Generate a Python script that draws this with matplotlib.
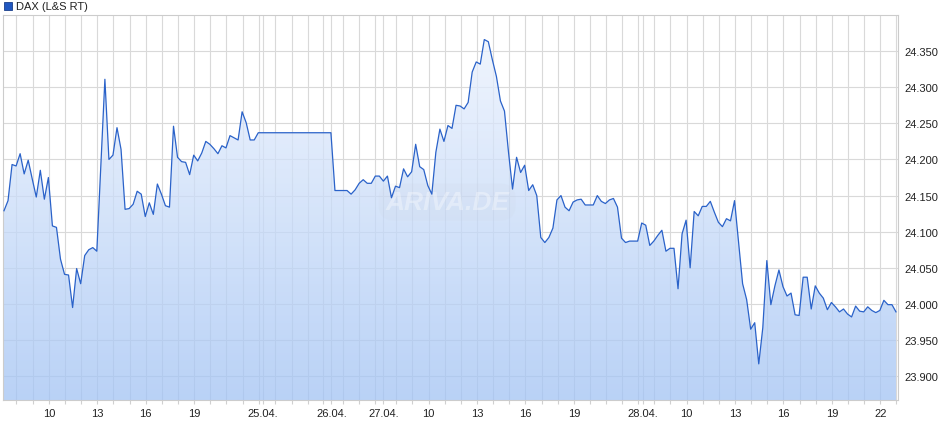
import numpy as np
import matplotlib
matplotlib.use("Agg")
import matplotlib.pyplot as plt
from matplotlib.ticker import FixedLocator, FuncFormatter
from matplotlib.patches import Rectangle

plt.rcParams['font.family'] = ['Liberation Sans', 'DejaVu Sans']

# === Data: DAX, 15-minute points ===
series_name = "DAX (L&S RT)"
prices = [
    24129, 24143, 24193, 24191, 24208, 24180, 24199, 24173, 24148, 24185,
    24145, 24175, 24108, 24106, 24062, 24041, 24040, 23995, 24049, 24028,
    24067, 24075, 24078, 24073, 24193, 24311, 24200, 24206, 24244, 24214,
    24131, 24132, 24138, 24156, 24152, 24121, 24140, 24124, 24166, 24152,
    24136, 24134, 24246, 24203, 24197, 24196, 24179, 24206, 24198, 24209,
    24225, 24221, 24215, 24208, 24219, 24216, 24233, 24230, 24227, 24266,
    24251, 24227, 24227,
] + [24237] * 19 + [
    24157, 24157, 24157, 24157, 24152, 24158, 24167, 24172, 24167, 24167,
    24177, 24177, 24170, 24177, 24147, 24163, 24161, 24187, 24176, 24183,
    24221, 24190, 24186, 24164, 24152, 24210, 24242, 24225, 24247, 24243,
    24275, 24274, 24270, 24279, 24321, 24335, 24332, 24366, 24363, 24338,
    24315, 24281, 24267, 24210, 24159, 24203, 24182, 24192, 24157, 24165,
    24150, 24092, 24085, 24092, 24105, 24144, 24150, 24134, 24129, 24141,
    24144, 24145, 24137, 24137, 24137, 24150, 24142, 24139, 24144, 24146,
    24134, 24091, 24085, 24087, 24087, 24087, 24112, 24109, 24081, 24087,
    24095, 24102, 24073, 24077, 24077, 24021, 24097, 24116, 24050, 24128,
    24122, 24135, 24135, 24142, 24127, 24113, 24107, 24118, 24115, 24143,
    24085, 24028, 24006, 23965, 23974, 23917, 23967, 24060, 23999, 24025,
    24047, 24024, 24011, 24015, 23985, 23984, 24037, 24037, 23993, 24025,
    24015, 24008, 23992, 24002, 23996, 23989, 23993, 23986, 23982, 23997,
    23990, 23989, 23996, 23991, 23988, 23991, 24005, 23999, 23999, 23989,
]

y_ticks = [23900, 23950, 24000, 24050, 24100, 24150, 24200, 24250, 24300, 24350]

# === Time axis (in point index units) ===
# hourly grid: first line of each session = 08:00
full_day_8h = [3.1, 97.2, 161.1]
short_day_lines = [67.2, 71.3, 75.4, 79.1, 84.07, 88.03, 92.0]
day_dividers = [64.17, 81.1, 93.98, 158.2]
day_labels = ["25.04.", "26.04.", "27.04.", "28.04."]
hour_labels_per_day = [["10", "13", "16", "19"], ["10", "13", "16", "19"],
                       ["10", "13", "16", "19", "22"]]

hour_lines = []
label_pos, label_txt = [], []
for start, labels in zip(full_day_8h, hour_labels_per_day):
    for k in range(16):
        hour_lines.append(start + 4 * k)
    for lab in labels:
        label_pos.append(start + 4 * (int(lab) - 8))
        label_txt.append(lab)
hour_lines += short_day_lines
label_pos += day_dividers
label_txt += day_labels
order = np.argsort(label_pos)
label_pos = [label_pos[i] for i in order]
label_txt = [label_txt[i] for i in order]

# === Figure ===
W, H = 940, 435
fig = plt.figure(figsize=(W / 100, H / 100), dpi=100)
ax = fig.add_axes([3.3 / W, 34 / H, (898 - 3.3) / W, (401 - 16) / H])

x = np.arange(len(prices))
y = np.array(prices, dtype=float)
xmin, xmax = -0.17, 221.5
ymin, ymax = 23867, 24400

# gradient fill under the line
poly = ax.fill_between(x, y, ymin, color='none', linewidth=0)
top = np.array([240, 245, 254]) / 255
bot = np.array([162, 195, 244]) / 255
t = np.linspace(0, 1, 256).reshape(-1, 1)
rgba = np.zeros((256, 1, 4))
rgba[:, :, :3] = top + (bot - top) * t[..., None]
rgba[:, :, 3] = 0.75
img = ax.imshow(rgba, extent=[xmin, xmax, ymin, ymax], aspect='auto',
                origin='upper', zorder=1, interpolation='bilinear')
img.set_clip_path(poly.get_paths()[0], transform=ax.transData)

ax.plot(x, y, color='#2a62c9', linewidth=0.9, zorder=3)

# watermark
ax.text(109.8, 24141, "ARIVA.DE", fontsize=19, fontweight='bold', style='italic',
        color='white', alpha=0.35, ha='center', va='center', zorder=2,
        bbox=dict(boxstyle='round,pad=0.25,rounding_size=0.6', fc='#c8cfdb',
                  ec='none', alpha=0.1))

ax.set_xlim(xmin, xmax)
ax.set_ylim(ymin, ymax)

# grid
ax.xaxis.set_major_locator(FixedLocator(label_pos))
ax.set_xticklabels(label_txt)
ax.xaxis.set_minor_locator(FixedLocator(sorted(hour_lines + day_dividers)))
ax.grid(True, which='both', axis='x', color='#d9d9d9', linewidth=0.8)
ax.grid(True, which='major', axis='y', color='#d9d9d9', linewidth=0.8)
ax.set_axisbelow(True)

ax.yaxis.set_major_locator(FixedLocator(y_ticks))
ax.yaxis.set_major_formatter(FuncFormatter(lambda v, p: f"{v:,.0f}".replace(",", ".")))
ax.yaxis.tick_right()
ax.tick_params(axis='y', length=0, pad=4.5, labelsize=8, labelcolor='#222222')
ax.tick_params(axis='x', which='both', length=3, color='#d0d0d0', width=0.8,
               pad=3, labelsize=8, labelcolor='#222222')

for s in ax.spines.values():
    s.set_color('#cccccc')
    s.set_linewidth(0.8)

# legend
fig.patches.append(Rectangle((4 / W, 1 - 11 / H), 8 / W, 8 / H, transform=fig.transFigure,
                             facecolor='#2057c0', edgecolor='#1a3f8a', linewidth=0.6))
fig.text(16 / W, 1 - 7.5 / H, series_name, fontsize=8, color='#222222', va='center')

fig.savefig("out.png", dpi=100)
